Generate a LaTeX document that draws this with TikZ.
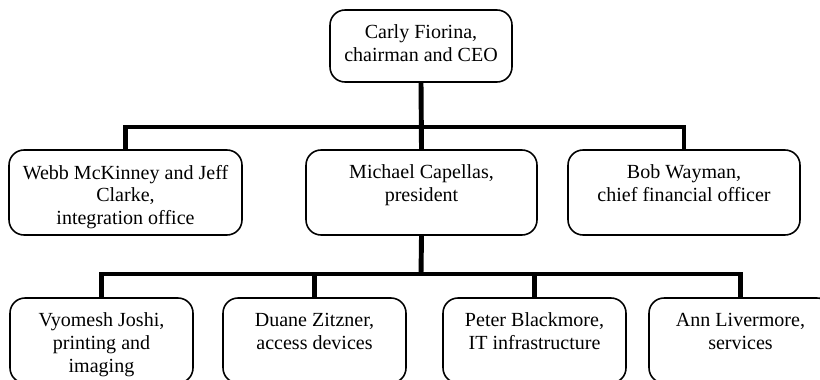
\documentclass[tikz,border=0pt]{standalone}
\usepackage{fontspec}
\setmainfont{Liberation Serif}

\begin{document}
\begin{tikzpicture}[x=0.02cm,y=-0.02cm,
   box/.style={draw,line width=0.9pt,rounded corners=0.3cm,minimum height=1.7cm},
   txt/.style={anchor=north,inner sep=0pt,yshift=-0.31cm,align=center,
      font=\rmfamily\fontsize{11.4}{12.9}\selectfont},
   link/.style={line width=2.8pt}]
   \path[use as bounding box,clip] (0,0) rectangle (820,379);

   \node[box,minimum width=3.64cm,minimum height=1.44cm,
      label={[txt]north:{Carly Fiorina,\\chairman and CEO}}] (ceo) at (421,46) {};

   \node[box,minimum width=4.66cm,
      label={[txt]north:{Webb McKinney and Jeff\\Clarke,\\integration office}}] (webb) at (125.5,192.5) {};
   \node[box,minimum width=4.62cm,
      label={[txt]north:{Michael Capellas,\\president}}] (mike) at (421.5,192.5) {};
   \node[box,minimum width=4.64cm,
      label={[txt]north:{Bob Wayman,\\chief financial officer}}] (bob) at (684,192.5) {};

   \node[box,minimum width=3.66cm,
      label={[txt]north:{Vyomesh Joshi,\\printing and\\imaging}}] (vyo) at (101.5,340.5) {};
   \node[box,minimum width=3.66cm,
      label={[txt]north:{Duane Zitzner,\\access devices}}] (duane) at (314.5,340.5) {};
   \node[box,minimum width=3.66cm,
      label={[txt]north:{Peter Blackmore,\\IT infrastructure}}] (peter) at (534.5,340.5) {};
   \node[box,minimum width=3.66cm,
      label={[txt]north:{Ann Livermore,\\services}}] (ann) at (740.5,340.5) {};

   \coordinate (topbar) at (421,127);
   \coordinate (lowbar) at (421,274);

   \draw[link] (ceo.south) -- (mike.north);
   \draw[link] (webb.north) |- (topbar) -| (bob.north);

   \draw[link] (mike.south) -- (lowbar);
   \draw[link] (vyo.north) |- (lowbar) -| (ann.north);
   \draw[link] (duane.north) -- (duane.north |- lowbar);
   \draw[link] (peter.north) -- (peter.north |- lowbar);

 \end{tikzpicture}
\end{document}
